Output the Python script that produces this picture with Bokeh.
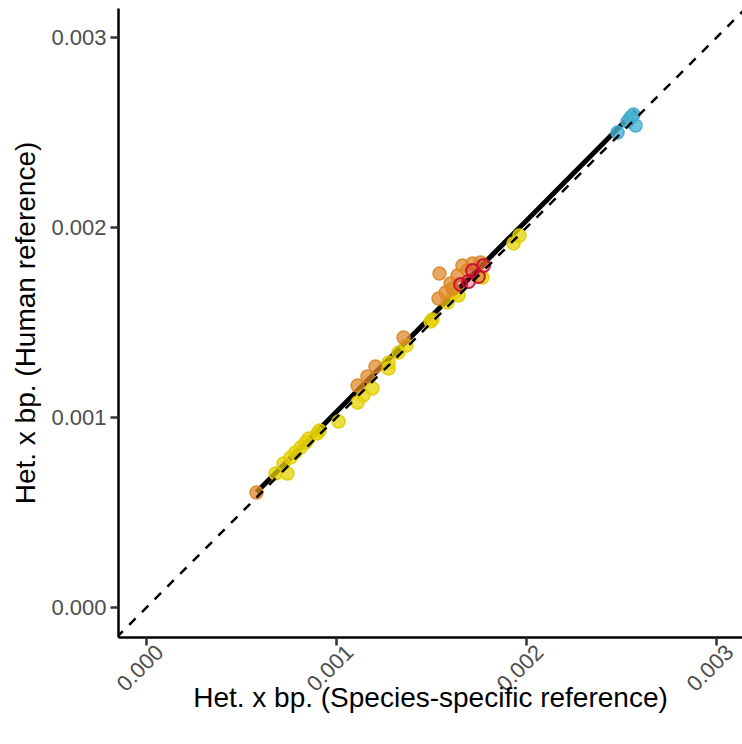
import numpy as np
from bokeh.plotting import figure
from bokeh.models import (Range1d, FixedTicker, PrintfTickFormatter, Slope, LinearAxis)
from bokeh.embed import file_html
from bokeh.resources import INLINE

# Data (Het. x bp.), species-specific reference (x) vs human reference (y)
yellow_x = [0.000679, 0.000742, 0.000721, 0.000758, 0.000784, 0.000811, 0.000837, 0.000853,
            0.000900, 0.000911, 0.001011, 0.001111, 0.001142, 0.001189, 0.001274, 0.001274,
            0.001326, 0.001368, 0.001505, 0.001495, 0.001584, 0.001616, 0.001642, 0.001768,
            0.001932, 0.001963]
yellow_y = [0.000705, 0.000705, 0.000758, 0.000789, 0.000816, 0.000842, 0.000868, 0.000889,
            0.000916, 0.000932, 0.000979, 0.001079, 0.001116, 0.001153, 0.001258, 0.001289,
            0.001342, 0.001379, 0.001516, 0.001505, 0.001605, 0.001653, 0.001642, 0.001737,
            0.001916, 0.001958]
orange_x = [0.000579, 0.001111, 0.001163, 0.001205, 0.001353, 0.001542, 0.001537, 0.001574,
            0.001600, 0.001637, 0.001663, 0.001716, 0.001758, 0.001689, 0.001611]
orange_y = [0.000605, 0.001168, 0.001216, 0.001268, 0.001421, 0.001758, 0.001626, 0.001658,
            0.001705, 0.001747, 0.001800, 0.001811, 0.001816, 0.001774, 0.001679]
red_x = [0.001653, 0.001695, 0.001716, 0.001774, 0.001747]
red_y = [0.001700, 0.001716, 0.001774, 0.001800, 0.001742]
blue_x = [0.002479, 0.002547, 0.002574, 0.002532, 0.002563]
blue_y = [0.002500, 0.002579, 0.002537, 0.002558, 0.002595]

x_ticks = [0.0, 0.001, 0.002, 0.003]
y_ticks = [0.0, 0.001, 0.002, 0.003]

FONT = "Liberation Sans"
X0, X1 = -0.0001474, 0.0031368
SHIFT = 0.0000684  # label nudge (ggplot-style rotated label placement)

p = figure(width=742, height=744, output_backend="svg", toolbar_location=None,
           x_range=Range1d(X0, X1), y_range=Range1d(-0.000158, 0.003153),
           min_border_left=118, min_border_right=0, min_border_top=8, min_border_bottom=107)
p.extra_x_ranges = {"lab": Range1d(X0 - SHIFT, X1 - SHIFT)}
p.background_fill_color = "white"
p.border_fill_color = "white"
p.outline_line_color = None
p.grid.visible = False

lab_axis = LinearAxis(x_range_name="lab")
p.add_layout(lab_axis, "below")

for ax in (p.xaxis, p.yaxis):
    ax.axis_line_width = 2.5
    ax.axis_line_color = "black"
    ax.major_tick_line_width = 2.5
    ax.major_tick_line_color = "#333333"
    ax.major_tick_out = 8
    ax.major_tick_in = 0
    ax.minor_tick_line_color = None
    ax.major_label_text_font = FONT
    ax.major_label_text_font_size = "22px"
    ax.major_label_text_color = "#4D4D4D"
    ax.axis_label_text_font = FONT
    ax.axis_label_text_font_size = "28px"
    ax.axis_label_text_font_style = "normal"
    ax.axis_label_text_color = "black"
    ax.formatter = PrintfTickFormatter(format="%.3f")
    ax.ticker = FixedTicker(ticks=x_ticks)

p.yaxis.ticker = FixedTicker(ticks=y_ticks)
p.yaxis.major_label_standoff = 4
p.yaxis.axis_label = "Het. x bp. (Human reference)"
p.yaxis.axis_label_standoff = 7

main_x = p.xaxis[0]
main_x.major_label_text_alpha = 0

lab_axis.axis_line_color = None
lab_axis.major_tick_line_color = None
lab_axis.major_tick_out = 0
lab_axis.major_label_orientation = np.pi / 4
lab_axis.major_label_standoff = 3
lab_axis.axis_label = "Het. x bp. (Species-specific reference)"
lab_axis.axis_label_standoff = -19

# y = x dashed reference line
p.add_layout(Slope(gradient=1, y_intercept=0, line_color="black", line_width=2.5,
                   line_dash="9 9"))

# linear fit through all points
all_x = np.array(yellow_x + orange_x + red_x + blue_x)
all_y = np.array(yellow_y + orange_y + red_y + blue_y)
slope, intercept = np.polyfit(all_x, all_y, 1)
fx = np.array([all_x.min(), all_x.max()])
p.line(fx, slope * fx + intercept, line_color="black", line_width=5)

p.scatter(yellow_x, yellow_y, size=13, fill_color="#E6D200", fill_alpha=0.75,
          line_color="#E0CC00", line_alpha=0.9, line_width=1.5)
p.scatter(orange_x, orange_y, size=13, fill_color="#E08A2C", fill_alpha=0.75,
          line_color="#DD8424", line_alpha=0.9, line_width=1.5)
p.scatter(red_x, red_y, size=13, fill_color="#C8102E", fill_alpha=0.3,
          line_color="#C8102E", line_alpha=0.95, line_width=2)
p.scatter(blue_x, blue_y, size=13, fill_color="#4BB3D4", fill_alpha=0.8,
          line_color="#3FAACD", line_alpha=0.9, line_width=1.5)

open("out.html", "w").write(file_html(p, INLINE))
